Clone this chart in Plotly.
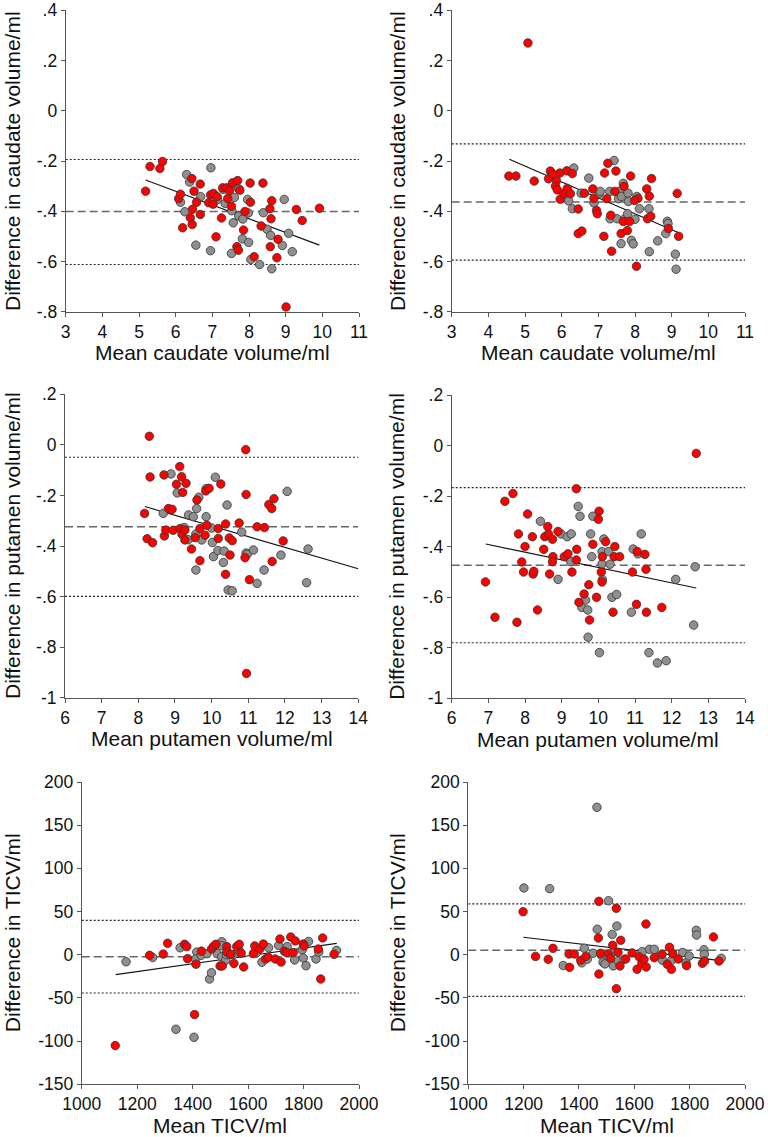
import plotly.graph_objects as go

W, H = 768, 1137

# ---------------- DATA ----------------
# Panel A: caudate (left)
cau_l_red_x = [5.18, 5.30, 5.57, 5.64, 6.08, 6.13, 6.19, 6.44, 6.50, 6.46, 6.40, 6.45, 6.57, 6.67, 6.67, 6.90, 6.95, 7.02, 7.03, 7.10, 7.13, 7.25, 7.28, 7.39, 7.42, 7.47, 7.52, 7.55, 7.67, 7.69, 7.71, 7.75, 7.85, 7.89, 8.03, 8.04, 8.14, 8.33, 8.38, 8.58, 8.57, 8.62, 8.60, 8.76, 8.79, 9.01, 9.29, 9.45, 9.92]
cau_l_red_y = [-0.320, -0.222, -0.230, -0.202, -0.350, -0.332, -0.466, -0.270, -0.320, -0.392, -0.426, -0.453, -0.364, -0.292, -0.413, -0.366, -0.335, -0.372, -0.329, -0.502, -0.342, -0.427, -0.307, -0.307, -0.349, -0.317, -0.380, -0.287, -0.541, -0.278, -0.555, -0.316, -0.475, -0.401, -0.288, -0.364, -0.581, -0.459, -0.288, -0.541, -0.390, -0.358, -0.430, -0.585, -0.512, -0.781, -0.393, -0.437, -0.388]
cau_l_gray_x = [6.30, 6.38, 6.13, 6.25, 6.55, 6.68, 6.96, 6.95, 7.14, 7.30, 7.35, 7.53, 7.57, 7.57, 7.60, 7.72, 7.72, 7.82, 7.83, 7.52, 7.96, 7.98, 7.99, 8.05, 8.29, 8.39, 8.49, 8.59, 8.62, 8.91, 8.96, 9.08, 9.18]
cau_l_gray_y = [-0.254, -0.284, -0.364, -0.402, -0.535, -0.342, -0.227, -0.557, -0.353, -0.313, -0.369, -0.398, -0.290, -0.446, -0.345, -0.311, -0.419, -0.510, -0.431, -0.568, -0.353, -0.407, -0.524, -0.592, -0.612, -0.406, -0.472, -0.496, -0.629, -0.536, -0.353, -0.488, -0.561]
cau_l_mean, cau_l_lo, cau_l_hi = -0.401, -0.612, -0.194
cau_l_fit_x, cau_l_fit_y = [5.18, 9.92], [-0.276, -0.535]

# Panel B: caudate (right)
cau_r_red_x = [5.08, 4.56, 4.75, 5.25, 5.64, 5.69, 5.75, 5.86, 5.83, 5.88, 5.95, 5.96, 6.06, 6.14, 6.15, 6.24, 6.29, 6.45, 6.45, 6.55, 6.62, 6.85, 6.88, 6.95, 6.97, 7.15, 7.17, 7.23, 7.26, 7.34, 7.36, 7.45, 7.48, 7.62, 7.70, 7.68, 7.79, 7.85, 7.88, 8.04, 8.08, 7.99, 8.32, 8.34, 8.39, 8.43, 8.45, 8.91, 9.15, 9.19]
cau_r_red_y = [0.270, -0.260, -0.260, -0.280, -0.271, -0.240, -0.251, -0.279, -0.300, -0.315, -0.248, -0.352, -0.330, -0.239, -0.309, -0.330, -0.250, -0.391, -0.489, -0.479, -0.328, -0.311, -0.349, -0.397, -0.410, -0.500, -0.248, -0.350, -0.209, -0.416, -0.559, -0.321, -0.240, -0.489, -0.301, -0.441, -0.477, -0.441, -0.260, -0.619, -0.349, -0.357, -0.311, -0.430, -0.340, -0.420, -0.270, -0.469, -0.329, -0.500]
cau_r_gray_x = [6.33, 6.19, 6.29, 6.53, 6.74, 6.88, 7.02, 7.05, 7.31, 7.32, 7.43, 7.51, 7.55, 7.58, 7.63, 7.62, 7.68, 7.71, 7.81, 7.82, 7.80, 7.90, 7.95, 8.00, 8.05, 8.12, 8.38, 8.39, 8.62, 8.84, 8.88, 8.90, 9.10, 9.12]
cau_r_gray_y = [-0.228, -0.359, -0.390, -0.328, -0.268, -0.367, -0.330, -0.321, -0.321, -0.430, -0.198, -0.430, -0.350, -0.320, -0.341, -0.529, -0.289, -0.431, -0.328, -0.361, -0.410, -0.516, -0.530, -0.432, -0.341, -0.390, -0.390, -0.561, -0.518, -0.489, -0.440, -0.449, -0.571, -0.631]
cau_r_mean, cau_r_lo, cau_r_hi = -0.363, -0.595, -0.132
cau_r_fit_x, cau_r_fit_y = [4.57, 9.19], [-0.193, -0.486]

# Panel C: putamen (left)
put_l_red_x = [8.30, 8.17, 8.24, 8.32, 8.39, 8.70, 8.71, 8.75, 8.82, 8.92, 8.95, 9.04, 9.13, 9.18, 9.14, 9.19, 9.21, 9.27, 9.30, 9.27, 9.45, 9.55, 9.60, 9.68, 9.68, 9.84, 9.82, 9.87, 9.93, 10.18, 10.18, 10.25, 10.38, 10.38, 10.48, 10.50, 10.56, 10.75, 10.91, 10.93, 10.94, 10.95, 11.03, 11.24, 11.44, 11.56, 11.64, 11.70, 11.65, 11.95, 14.01]
put_l_red_y = [0.034, -0.271, -0.371, -0.127, -0.387, -0.119, -0.360, -0.337, -0.252, -0.255, -0.338, -0.156, -0.086, -0.126, -0.331, -0.353, -0.188, -0.337, -0.152, -0.376, -0.412, -0.367, -0.218, -0.331, -0.458, -0.182, -0.357, -0.318, -0.172, -0.331, -0.370, -0.155, -0.313, -0.512, -0.368, -0.436, -0.379, -0.309, -0.446, -0.019, -0.196, -0.904, -0.533, -0.324, -0.327, -0.236, -0.252, -0.213, -0.461, -0.380, -0.284]
put_l_gray_x = [8.68, 8.89, 9.06, 9.25, 9.36, 9.37, 9.50, 9.57, 9.57, 9.59, 9.65, 9.73, 9.85, 9.85, 10.00, 10.02, 10.05, 10.10, 10.17, 10.32, 10.34, 10.42, 10.45, 10.56, 10.82, 10.94, 10.97, 11.14, 11.24, 11.43, 11.89, 12.06, 12.59, 12.63]
put_l_gray_y = [-0.271, -0.115, -0.190, -0.327, -0.375, -0.277, -0.284, -0.353, -0.495, -0.252, -0.207, -0.376, -0.173, -0.284, -0.329, -0.386, -0.442, -0.128, -0.418, -0.465, -0.420, -0.238, -0.574, -0.577, -0.345, -0.428, -0.433, -0.416, -0.548, -0.495, -0.436, -0.184, -0.545, -0.412]
put_l_mean, put_l_lo, put_l_hi = -0.324, -0.599, -0.049
put_l_fit_x, put_l_fit_y = [8.18, 14.0], [-0.244, -0.490]

# Panel D: putamen (right)
put_r_red_x = [6.92, 7.18, 7.45, 7.67, 7.78, 7.82, 7.91, 7.96, 8.00, 8.07, 8.20, 8.22, 8.24, 8.34, 8.51, 8.54, 8.62, 8.64, 8.67, 8.75, 8.76, 8.75, 8.90, 9.07, 9.17, 9.28, 9.40, 9.41, 9.40, 9.47, 9.61, 9.74, 9.76, 9.85, 9.95, 10.02, 10.00, 10.08, 10.10, 10.11, 10.20, 10.40, 10.45, 10.43, 10.58, 10.93, 11.04, 11.06, 11.27, 11.30, 11.31, 11.73, 12.67]
put_r_red_y = [-0.539, -0.679, -0.220, -0.189, -0.699, -0.349, -0.460, -0.500, -0.399, -0.270, -0.360, -0.508, -0.497, -0.650, -0.410, -0.360, -0.320, -0.349, -0.508, -0.370, -0.439, -0.459, -0.339, -0.439, -0.428, -0.500, -0.170, -0.410, -0.452, -0.620, -0.587, -0.550, -0.690, -0.390, -0.600, -0.259, -0.291, -0.500, -0.539, -0.439, -0.380, -0.659, -0.399, -0.439, -0.439, -0.500, -0.628, -0.419, -0.430, -0.489, -0.659, -0.640, -0.030]
put_r_gray_x = [8.42, 8.90, 8.98, 9.15, 9.26, 9.25, 9.45, 9.50, 9.55, 9.65, 9.71, 9.72, 9.79, 9.82, 9.85, 10.03, 10.10, 10.10, 10.11, 10.15, 10.28, 10.32, 10.37, 10.50, 10.90, 10.95, 11.08, 11.17, 11.38, 11.61, 11.85, 12.11, 12.60, 12.64]
put_r_gray_y = [-0.299, -0.529, -0.349, -0.360, -0.349, -0.459, -0.240, -0.279, -0.640, -0.611, -0.650, -0.758, -0.349, -0.439, -0.279, -0.819, -0.419, -0.468, -0.530, -0.369, -0.419, -0.469, -0.600, -0.589, -0.659, -0.409, -0.428, -0.349, -0.819, -0.860, -0.851, -0.529, -0.710, -0.479]
put_r_mean, put_r_lo, put_r_hi = -0.473, -0.780, -0.166
put_r_fit_x, put_r_fit_y = [6.93, 12.67], [-0.389, -0.563]

# Panel E: TICV (left)
tic_l_red_x = [1121, 1245, 1294, 1310, 1371, 1379, 1382, 1407, 1412, 1432, 1468, 1475, 1484, 1499, 1507, 1523, 1523, 1538, 1549, 1559, 1568, 1575, 1584, 1619, 1624, 1642, 1655, 1663, 1673, 1698, 1715, 1719, 1731, 1739, 1754, 1763, 1770, 1799, 1802, 1853, 1862, 1869, 1910]
tic_l_red_y = [-105.2, -0.7, 0.8, 13.2, 12.1, 9.4, -4.5, -69.3, -10.9, 4.2, 6.6, 9.4, 12.1, -13.0, -13.0, 9.4, 3.2, 0.5, -10.0, 9.4, 12.1, 2.1, -14.1, 1.3, 10.2, 6.6, 12.4, -4.9, -3.0, -4.9, 18.2, -8.4, 4.0, 2.5, 20.6, 2.5, 16.0, 12.4, 10.2, 6.6, -28.1, 19.4, 0.5]
tic_l_gray_x = [1160, 1256, 1355, 1415, 1411, 1431, 1452, 1461, 1468, 1489, 1505, 1504, 1505, 1519, 1522, 1532, 1547, 1567, 1630, 1650, 1674, 1710, 1741, 1768, 1795, 1799, 1809, 1818, 1845, 1855, 1919, 1340, 1405]
tic_l_gray_y = [-8.1, -3.1, 8.1, 3.1, -5.0, -0.7, 1.2, -28.1, -20.8, 1.2, 15.1, 10.5, -2.2, -6.4, 0.1, 1.2, 0.1, 5.1, 2.1, -8.7, 8.1, 10.8, 9.4, -6.0, 5.5, -3.8, -12.7, 15.4, -4.9, 3.2, 5.1, -86.3, -95.6]
tic_l_mean, tic_l_lo, tic_l_hi = -2.2, -44.3, 39.9
tic_l_fit_x, tic_l_fit_y = [1122.6, 1919.5], [-23.0, 13.2]

# Panel F: TICV (right)
tic_r_red_x = [1198, 1243, 1289, 1306, 1364, 1366, 1383, 1406, 1425, 1472, 1470, 1472, 1478, 1506, 1514, 1522, 1535, 1535, 1541, 1551, 1548, 1569, 1592, 1610, 1617, 1627, 1635, 1642, 1643, 1672, 1700, 1719, 1727, 1734, 1739, 1759, 1789, 1846, 1854, 1886, 1906]
tic_r_red_y = [49.8, -1.9, -5.3, 7.4, 0.9, -14.6, 0.9, -6.4, -1.9, 61.8, 19.4, -22.3, 1.7, 0.9, -4.1, 11.0, 53.7, -39.3, 2.8, 16.7, -13.0, -4.9, 2.1, -16.8, -2.2, -10.2, -5.3, 35.6, -14.2, -3.4, 0.5, -11.1, 8.6, -16.8, 1.2, -4.9, -12.6, -9.9, -7.2, 20.6, -7.2]
tic_r_gray_x = [1201, 1294, 1343, 1410, 1419, 1430, 1451, 1466, 1465, 1481, 1487, 1494, 1507, 1520, 1522, 1524, 1537, 1542, 1563, 1629, 1655, 1672, 1702, 1735, 1775, 1787, 1798, 1824, 1825, 1852, 1853, 1914]
tic_r_gray_y = [77.3, 76.5, -12.5, -9.4, 7.6, -5.1, 1.8, 29.6, 170.7, -0.6, -8.6, -10.6, 62.5, 23.5, 2.6, -12.9, 33.2, -7.2, -5.3, 3.6, 6.3, 6.3, -6.4, -6.4, 2.6, -9.4, -1.4, 28.3, 22.8, 5.9, 0.5, -4.1]
tic_r_mean, tic_r_lo, tic_r_hi = 5.1, -48.1, 58.8
tic_r_fit_x, tic_r_fit_y = [1198.8, 1912.0], [20.2, -6.8]

# Axis ticks / labels
cau_xticks = [3, 4, 5, 6, 7, 8, 9, 10, 11]
cau_yticks = [-0.8, -0.6, -0.4, -0.2, 0, 0.2, 0.4]
cau_ytext = ["-.8", "-.6", "-.4", "-.2", "0", ".2", ".4"]
put_xticks = [6, 7, 8, 9, 10, 11, 12, 13, 14]
put_yticks = [-1, -0.8, -0.6, -0.4, -0.2, 0, 0.2]
put_ytext = ["-1", "-.8", "-.6", "-.4", "-.2", "0", ".2"]
tic_xticks = [1000, 1200, 1400, 1600, 1800, 2000]
tic_yticks = [-150, -100, -50, 0, 50, 100, 150, 200]
tic_ytext = [str(v) for v in tic_yticks]

cau_xtitle, cau_ytitle = "Mean caudate volume/ml", "Difference in caudate volume/ml"
put_xtitle, put_ytitle = "Mean putamen volume/ml", "Difference in putamen volume/ml"
tic_xtitle, tic_ytitle = "Mean TICV/ml", "Difference in TICV/ml"

# ---------------- FIGURE ----------------
panels = [
    dict(rx=cau_l_red_x, ry=cau_l_red_y, gx=cau_l_gray_x, gy=cau_l_gray_y, mean=cau_l_mean, lo=cau_l_lo, hi=cau_l_hi,
         fx=cau_l_fit_x, fy=cau_l_fit_y, xt=cau_xticks, yt=cau_yticks, ytt=cau_ytext, xtitle=cau_xtitle, ytitle=cau_ytitle,
         box=(65.7, 359.0, 10.3, 311.7), ytx=12),
    dict(rx=cau_r_red_x, ry=cau_r_red_y, gx=cau_r_gray_x, gy=cau_r_gray_y, mean=cau_r_mean, lo=cau_r_lo, hi=cau_r_hi,
         fx=cau_r_fit_x, fy=cau_r_fit_y, xt=cau_xticks, yt=cau_yticks, ytt=cau_ytext, xtitle=cau_xtitle, ytitle=cau_ytitle,
         box=(451.7, 745.0, 10.3, 311.7), ytx=397),
    dict(rx=put_l_red_x, ry=put_l_red_y, gx=put_l_gray_x, gy=put_l_gray_y, mean=put_l_mean, lo=put_l_lo, hi=put_l_hi,
         fx=put_l_fit_x, fy=put_l_fit_y, xt=put_xticks, yt=put_yticks, ytt=put_ytext, xtitle=put_xtitle, ytitle=put_ytitle,
         box=(65.0, 358.3, 394.3, 697.7), ytx=12),
    dict(rx=put_r_red_x, ry=put_r_red_y, gx=put_r_gray_x, gy=put_r_gray_y, mean=put_r_mean, lo=put_r_lo, hi=put_r_hi,
         fx=put_r_fit_x, fy=put_r_fit_y, xt=put_xticks, yt=put_yticks, ytt=put_ytext, xtitle=put_xtitle, ytitle=put_ytitle,
         box=(451.7, 745.0, 395.3, 698.3), ytx=397),
    dict(rx=tic_l_red_x, ry=tic_l_red_y, gx=tic_l_gray_x, gy=tic_l_gray_y, mean=tic_l_mean, lo=tic_l_lo, hi=tic_l_hi,
         fx=tic_l_fit_x, fy=tic_l_fit_y, xt=tic_xticks, yt=tic_yticks, ytt=tic_ytext, xtitle=tic_xtitle, ytitle=tic_ytitle,
         box=(81.7, 359.0, 782.0, 1084.3), ytx=12),
    dict(rx=tic_r_red_x, ry=tic_r_red_y, gx=tic_r_gray_x, gy=tic_r_gray_y, mean=tic_r_mean, lo=tic_r_lo, hi=tic_r_hi,
         fx=tic_r_fit_x, fy=tic_r_fit_y, xt=tic_xticks, yt=tic_yticks, ytt=tic_ytext, xtitle=tic_xtitle, ytitle=tic_ytitle,
         box=(468.3, 745.0, 782.0, 1084.3), ytx=397),
]

FONT = "Liberation Sans, Arial, Helvetica, sans-serif"
AXC = "#555555"
TICKSIZE = 17.5
fig = go.Figure()
layout = dict(width=W, height=H, margin=dict(l=0, r=0, t=0, b=0, autoexpand=False), paper_bgcolor="white",
              plot_bgcolor="white", showlegend=False, font=dict(family=FONT, color="#111", size=16))
annotations = []

for i, p in enumerate(panels):
    n = i + 1
    xa = "x" if n == 1 else f"x{n}"
    ya = "y" if n == 1 else f"y{n}"
    x0, x1, top, bot = p["box"]
    xr = [p["xt"][0], p["xt"][-1]]
    yr = [p["yt"][0], p["yt"][-1]]
    # reference lines
    for val, dash, col, wd in [(p["hi"], "2px,2px", "#222", 1.2), (p["lo"], "2px,2px", "#222", 1.2),
                               (p["mean"], "8px,4px", "#666", 1.5)]:
        fig.add_trace(go.Scatter(x=xr, y=[val, val], mode="lines", xaxis=xa, yaxis=ya,
                                 line=dict(color=col, width=wd, dash=dash), hoverinfo="skip"))
    fig.add_trace(go.Scatter(x=p["fx"], y=p["fy"], mode="lines", xaxis=xa, yaxis=ya,
                             line=dict(color="#111", width=1.1), hoverinfo="skip"))
    fig.add_trace(go.Scatter(x=p["gx"], y=p["gy"], mode="markers", xaxis=xa, yaxis=ya, cliponaxis=False,
                             marker=dict(size=8.5, color="#8f8f8f", line=dict(color="#333", width=0.8))))
    fig.add_trace(go.Scatter(x=p["rx"], y=p["ry"], mode="markers", xaxis=xa, yaxis=ya, cliponaxis=False,
                             marker=dict(size=8.5, color="#ff0000", line=dict(color="#333", width=0.8))))

    xkey = "xaxis" if n == 1 else f"xaxis{n}"
    ykey = "yaxis" if n == 1 else f"yaxis{n}"
    layout[xkey] = dict(domain=[x0 / W, x1 / W], range=xr, anchor=ya, showgrid=False, zeroline=False,
                        automargin=False,
                        showline=True, linecolor=AXC, linewidth=1, ticks="outside", ticklen=4,
                        tickcolor=AXC, tickwidth=1, tickvals=p["xt"], tickfont=dict(size=TICKSIZE, color="#111"))
    layout[ykey] = dict(domain=[1 - bot / H, 1 - top / H], range=yr, anchor=xa, showgrid=False, zeroline=False,
                        automargin=False,
                        showline=True, linecolor=AXC, linewidth=1, ticks="outside", ticklen=4,
                        tickcolor=AXC, tickwidth=1, tickvals=p["yt"], ticktext=p["ytt"],
                        tickfont=dict(size=TICKSIZE, color="#111"))
    annotations.append(dict(text=p["xtitle"], x=(x0 + x1) / 2 / W, y=1 - (bot + 41) / H, xref="paper",
                            yref="paper", xanchor="center", yanchor="middle", showarrow=False,
                            font=dict(size=21, color="#111", family=FONT)))
    annotations.append(dict(text=p["ytitle"], x=p["ytx"] / W, y=1 - (top + bot) / 2 / H, xref="paper",
                            yref="paper", xanchor="center", yanchor="middle", showarrow=False, textangle=-90,
                            font=dict(size=21, color="#111", family=FONT)))

layout["annotations"] = annotations
fig.update_layout(**layout)
fig.write_html("out.html")
